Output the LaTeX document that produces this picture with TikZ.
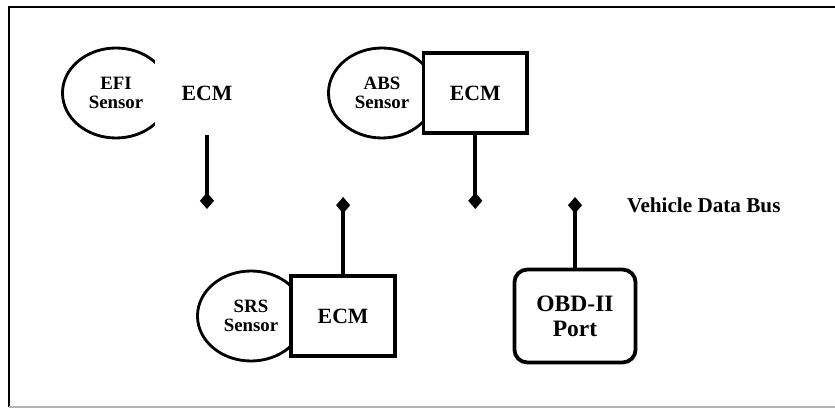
\documentclass[tikz,border=0pt]{standalone}
\usepackage{fontspec}
\setmainfont{Liberation Serif}
\usetikzlibrary{arrows.meta,positioning,shapes.geometric}

\begin{document}
\begin{tikzpicture}[
    x=0.85pt, y=-0.85pt,
    sensor/.style={ellipse, draw, line width=2.4pt, fill=white, minimum width=91pt, minimum height=76.5pt, inner sep=0pt, align=center, font=\fontsize{16}{16.5}\selectfont\bfseries},
    ecm/.style={rectangle, draw, line width=3.2pt, fill=white, minimum width=88pt, minimum height=68pt, font=\fontsize{18.5}{20}\selectfont\bfseries},
    port/.style={rectangle, rounded corners=11pt, draw, line width=3.2pt, fill=white, minimum width=103pt, minimum height=79pt, align=center, font=\fontsize{20}{21}\selectfont\bfseries},
    tap/.style={-{Diamond[length=14pt,width=12pt]}, line width=3.4pt},
    buslabel/.style={font=\fontsize{18}{19}\selectfont\bfseries}
]
\useasboundingbox (0,0) rectangle (835,409);

% frame
\draw[line width=2.4pt] (835,7) -- (9,7) -- (9,407);
\draw[gray!60, line width=1pt] (9,407) -- (835,407);

\node[sensor] (efisensor) at (116,93) {EFI\\Sensor};
\node[ecm, draw=none, right=-15pt of efisensor] (efiecm) {ECM};
\node[sensor] (abssensor) at (382,93) {ABS\\Sensor};
\node[ecm, right=-13pt of abssensor] (absecm) {ECM};
\node[sensor] (srssensor) at (251,316) {SRS\\Sensor};
\node[ecm, right=-14pt of srssensor] (srsecm) {ECM};
\node[port] (obdport) at (575,316) {OBD-II\\Port};

% data bus taps
\coordinate (busdown) at (0,209);
\coordinate (busup) at (0,197);
\coordinate (efitap) at (efiecm.south |- busdown);
\coordinate (abstap) at (absecm.south |- busdown);
\coordinate (srstap) at (srsecm.north |- busup);
\coordinate (obdtap) at (obdport.north |- busup);

\draw[tap] (efiecm) -- (efitap);
\draw[tap] (absecm) -- (abstap);
\draw[tap] (srsecm) -- (srstap);
\draw[tap] (obdport) -- (obdtap);

\node[buslabel, anchor=west] (busname) at (623,205) {Vehicle Data Bus};

\end{tikzpicture}
\end{document}
